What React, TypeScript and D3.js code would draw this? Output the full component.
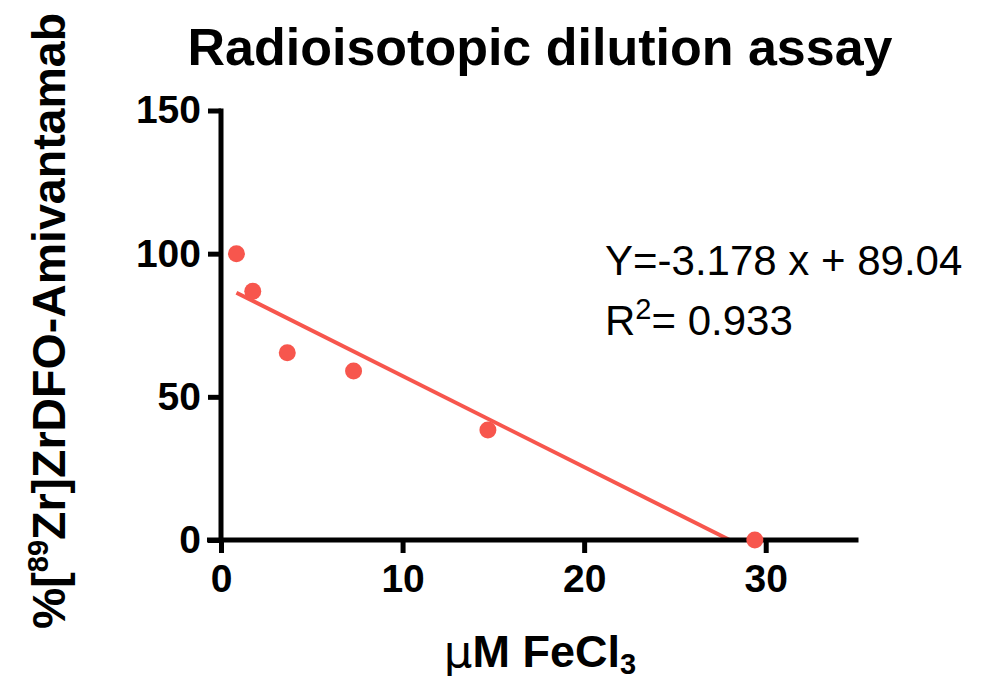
import React, { useRef, useEffect } from "react";
import { select, scaleLinear, axisLeft, axisBottom, line } from "d3";

// FeCl3 concentrations (µM) and remaining labelled fraction (%)
const feConc = [0.85, 1.75, 3.65, 7.3, 14.7, 29.4];
const percentBound = [100, 86.9, 65.4, 59.0, 38.4, 0];
const xTicks = [0, 10, 20, 30];
const yTicks = [0, 50, 100, 150];
const fitSlope = -3.178;
const fitIntercept = 89.04;
const fitR2 = 0.933;

const RED = "#f7564d";
const FONT = "'Liberation Sans', Arial, sans-serif";

function DilutionChart() {
    const xAxisRef = useRef<SVGGElement>(null);
    const yAxisRef = useRef<SVGGElement>(null);

    const x = scaleLinear().domain([0, 35]).range([221, 856.5]);
    const y = scaleLinear().domain([0, 150]).range([540, 110.5]);

    useEffect(() => {
        // axes drawn by d3, then styled like the Prism original
        const xa = select(xAxisRef.current);
        xa.call(axisBottom(x).tickValues(xTicks).tickSize(13).tickSizeOuter(0).tickPadding(11));
        const ya = select(yAxisRef.current);
        ya.call(axisLeft(y).tickValues(yTicks).tickSize(13).tickSizeOuter(0).tickPadding(7));
        [xa, ya].forEach(g => {
            g.select(".domain").attr("stroke", "#000").attr("stroke-width", 5);
            g.selectAll(".tick line").attr("stroke", "#000").attr("stroke-width", 5);
            g.selectAll(".tick text")
                .attr("fill", "#000")
                .style("font-family", FONT)
                .style("font-weight", "bold")
                .style("font-size", "39px");
        });
        // let the axis lines overlap at the origin
        xa.select(".domain").attr("d", `M${x(0) - 14},0H${x(35) + 2}`);
        ya.select(".domain").attr("d", `M0,${y(150) - 2}V${y(0) + 2.5}`);
    }, []);

    const fitX = [feConc[0], -fitIntercept / fitSlope];
    const fitLine = line<number>()
        .x(d => x(d))
        .y(d => y(fitSlope * d + fitIntercept));

    return (
        <svg width={1000} height={679} style={{ position: "absolute", left: 0, top: 0, background: "#fff" }}>
            <text x={540} y={65} textAnchor="middle" fontFamily={FONT} fontWeight="bold" fontSize={52}>
                Radioisotopic dilution assay
            </text>

            <path d={fitLine(fitX) || ""} stroke={RED} strokeWidth={4} fill="none" />

            <g ref={yAxisRef} transform={`translate(${x(0)},0)`} />
            <g ref={xAxisRef} transform={`translate(0,${y(0)})`} />

            {feConc.map((c, i) => (
                <circle key={i} cx={x(c)} cy={y(percentBound[i])} r={8.5} fill={RED} />
            ))}

            <text x={605} y={275} fontFamily={FONT} fontSize={42}>
                {`Y=${fitSlope} x + ${fitIntercept}`}
            </text>
            <text x={605} y={335} fontFamily={FONT} fontSize={42}>
                R<tspan fontSize={29} dy={-16}>2</tspan>
                <tspan dy={16}>{`= ${fitR2}`}</tspan>
            </text>

            <text transform="translate(65,321) rotate(-90)" textAnchor="middle"
                fontFamily={FONT} fontWeight="bold" fontSize={46.5}>
                %[<tspan fontSize={29} dy={-17}>89</tspan>
                <tspan dy={17}>Zr]ZrDFO-Amivantamab</tspan>
            </text>

            <text x={540} y={667} textAnchor="middle" fontFamily={FONT} fontWeight="bold" fontSize={45}>
                <tspan fontFamily="'DejaVu Sans', sans-serif" fontWeight="normal">μ</tspan>M FeCl
                <tspan fontSize={29} dy={7}>3</tspan>
            </text>
        </svg>
    );
}

export default function App() {
    return <DilutionChart />;
}
